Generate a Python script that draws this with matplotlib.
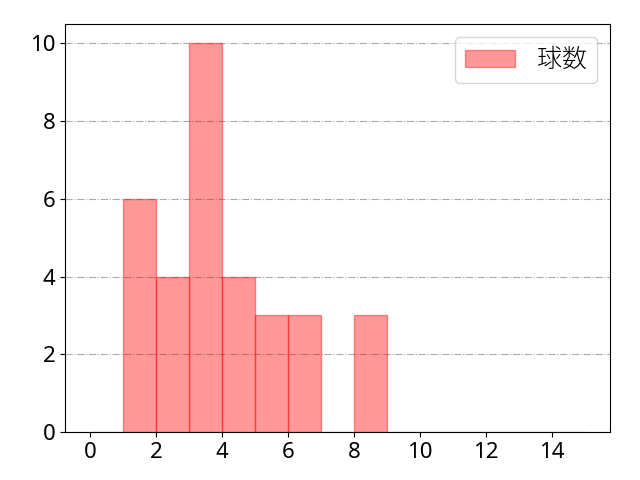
import numpy as np
import matplotlib
matplotlib.use('Agg')
import matplotlib.pyplot as plt

plt.rcParams['font.family'] = ['Noto Sans', 'Noto Sans CJK JP', 'DejaVu Sans']

# pitch count per bin (bins of width 1)
bin_left = [1, 2, 3, 4, 5, 6, 7, 8]
counts = [6, 4, 10, 4, 3, 3, 0, 3]
bin_edges = list(range(0, 16))
label = '球数'

fig, ax = plt.subplots(figsize=(6.4, 4.8), dpi=100)
fig.subplots_adjust(left=0.102, right=0.953, top=0.95, bottom=0.1)
ax.hist(bin_left, bins=bin_edges, weights=counts, color='red', alpha=0.4,
        edgecolor='red', linewidth=1, label=label)
ax.set_xlim(-0.75, 15.75)
ax.set_ylim(0, 10.5)
ax.set_xticks(range(0, 16, 2))
ax.tick_params(labelsize=16)
ax.grid(axis='y', linestyle='-.', color='#aaaaaa', linewidth=0.8)
ax.set_axisbelow(True)
leg = ax.legend(loc='upper right', fontsize=18, handlelength=2.0, handletextpad=0.9)
for t in leg.get_texts():
    t.set_family(['Noto Sans CJK JP', 'DejaVu Sans'])
    t.set_fontweight('light')
plt.savefig('out.png')
